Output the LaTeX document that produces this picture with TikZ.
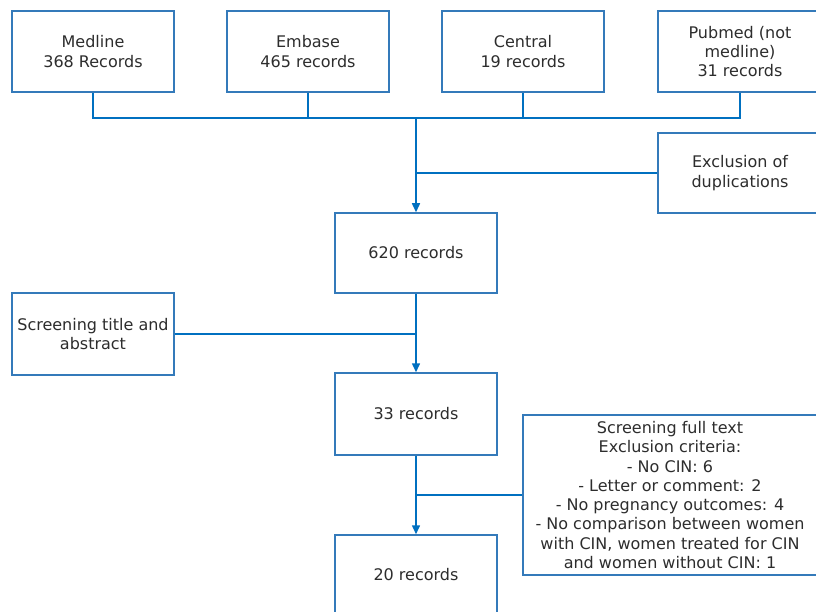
\documentclass[tikz,border=0pt]{standalone}
\usepackage{fontspec}
\setmainfont{DejaVu Sans}
\usepackage{tikz}
\usetikzlibrary{arrows.meta,positioning}
\usepackage{xcolor}
\definecolor{Boxblue}{RGB}{52,122,186}
\definecolor{Flowblue}{RGB}{0,112,192}
\definecolor{Txtgray}{RGB}{45,45,45}

\tikzset{
  recbox/.style={draw=Boxblue, line width=1.5pt, fill=white, text=Txtgray, align=center,
    minimum width=162pt, minimum height=81pt, inner sep=2pt,
    font=\fontsize{16}{19.3}\selectfont},
  flow/.style={draw=Flowblue, line width=1.5pt},
  flowarrow/.style={flow, -{Triangle[width=8pt,length=9pt]}}
}

\begin{document}
\begin{tikzpicture}[x=1pt,y=-1pt]
\clip (0,0) rectangle (816,612);
\fill[white] (0,0) rectangle (816,612);
% sources
\node[recbox] (medline) at ( 93,51.5) {Medline\\368 Records};
\node[recbox] (embase)  at (308,51.5) {Embase\\465 records};
\node[recbox] (central) at (523,51.5) {Central\\19 records};
\node[recbox, minimum width=164pt] (pubmed) at (740,51.5) {Pubmed (not\\medline)\\31 records};
\coordinate (bus) at (416,118);
\draw[flow] (medline.south) |- (bus) -| (pubmed.south);
\draw[flow] (embase.south) -- (embase.south |- bus);
\draw[flow] (central.south) -- (central.south |- bus);
%
\node[recbox, minimum width=164pt, minimum height=80pt] (dupl) at (740,173) {Exclusion of\\duplications};
\node[recbox, minimum height=80pt] (rec620) at (416,253) {620 records};
\draw[flow] (dupl.west) -- (dupl.west -| bus);
\draw[flowarrow] (bus) -- (rec620.north);
%
\node[recbox, minimum height=82pt] (title) at (93,334) {Screening title and\\abstract};
\node[recbox, minimum height=82pt] (rec33) at (416,414) {33 records};
\draw[flow] (title.east) -- (title.east -| rec620.south);
\draw[flowarrow] (rec620.south) -- (rec33.north);
%
\node[recbox, minimum width=294pt, minimum height=160pt] (fulltext) at (670,495)
  {Screening full text\\Exclusion criteria:\\- No CIN: 6\\- Letter or comment: 2\\- No pregnancy outcomes: 4\\- No comparison between women\\with CIN, women treated for CIN\\and women without CIN: 1};
\node[recbox, minimum height=80pt] (rec20) at (416,575) {20 records};
\draw[flow] (fulltext.west) -- (fulltext.west -| rec33.south);
\draw[flowarrow] (rec33.south) -- (rec20.north);
\end{tikzpicture}
\end{document}
